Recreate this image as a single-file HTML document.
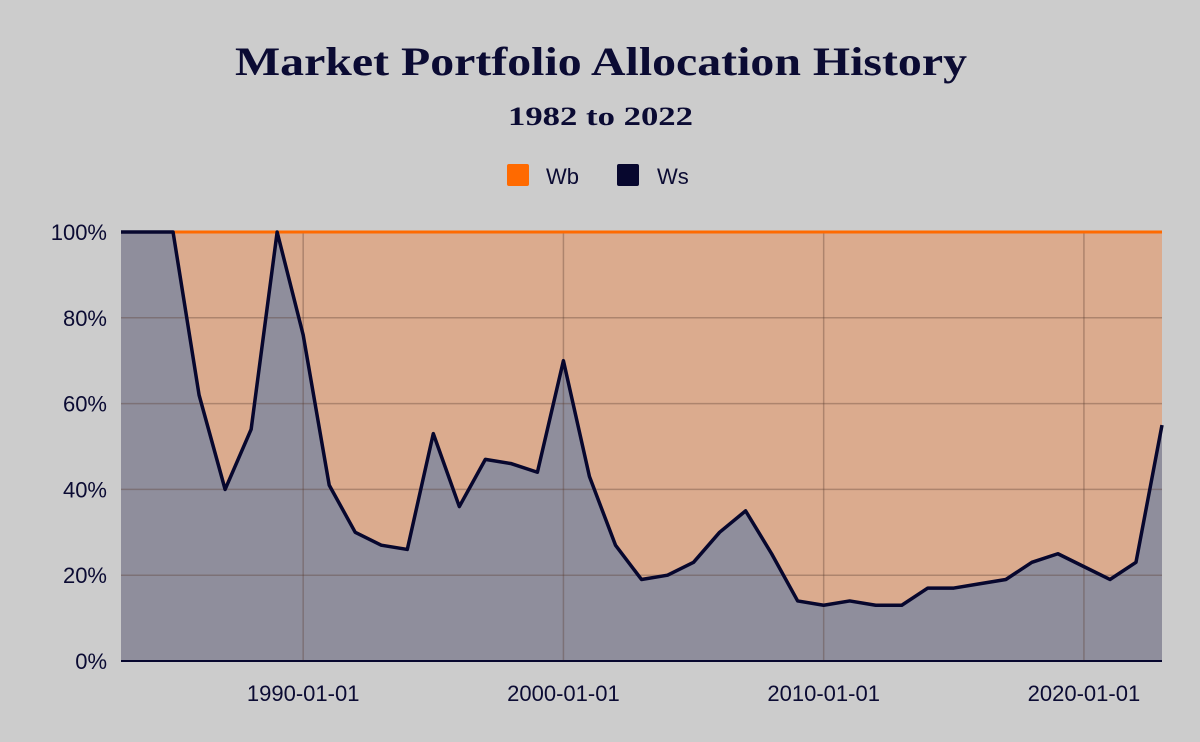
<!DOCTYPE html>
<html><head><meta charset="utf-8"><style>
html,body{margin:0;padding:0;background:#cccccc;}
svg{display:block;}
</style></head><body>
<svg width="1200" height="742" xmlns="http://www.w3.org/2000/svg">
<rect x="0" y="0" width="1200" height="742" fill="#cccccc"/>
<text x="235" y="75" textLength="732" lengthAdjust="spacingAndGlyphs" font-family="Liberation Serif, serif" font-weight="bold" font-size="40" fill="#0b0b33">Market Portfolio Allocation History</text>
<text x="508" y="125" textLength="185" lengthAdjust="spacingAndGlyphs" font-family="Liberation Serif, serif" font-weight="bold" font-size="26" fill="#0b0b33">1982 to 2022</text>
<g>
<g><rect x="507" y="164" width="22" height="22" rx="2" fill="#ff6a00"/><text x="546" y="184" font-family="Liberation Sans, sans-serif" font-size="22" fill="#0b0b33">Wb</text></g>
<g><rect x="617" y="164" width="22" height="22" rx="2" fill="#07072e"/><text x="657" y="184" font-family="Liberation Sans, sans-serif" font-size="22" fill="#0b0b33">Ws</text></g>
</g>
<g id="plot"></g>
</svg>
<script>
const years = [1983,1984,1985,1986,1987,1988,1989,1990,1991,1992,1993,1994,1995,1996,1997,1998,1999,2000,2001,2002,2003,2004,2005,2006,2007,2008,2009,2010,2011,2012,2013,2014,2015,2016,2017,2018,2019,2020,2021,2022,2023];
const wsValues = [100,100,100,62,40,54,100,76,41,30,27,26,53,36,47,46,44,70,43,27,19,20,23,30,35,25,14,13,14,13,13,17,17,18,19,23,25,22,19,23,55];
const yTicks = [0,20,40,60,80,100];
const xTickYears = [1990,2000,2010,2020];
const xTickLabels = ["1990-01-01","2000-01-01","2010-01-01","2020-01-01"];

const NS="http://www.w3.org/2000/svg";
const plotG=document.getElementById('plot');
const PL=121,PR=1162,PT=232,PB=661;
const xStart=years[0], xEnd=years[years.length-1];
const xs=v=>PL+(v-xStart)/(xEnd-xStart)*(PR-PL);
const ys=v=>PB-v/100*(PB-PT);
function mk(t,a){const e=document.createElementNS(NS,t);for(const k in a)e.setAttribute(k,a[k]);plotG.appendChild(e);return e;}
const linePts=years.map((y,i)=>xs(y)+","+ys(wsValues[i])).join(" L");
let wbPath="M"+linePts+" L"+xs(xEnd)+","+ys(100)+" L"+xs(xStart)+","+ys(100)+" Z";
let e=mk('path',{d:wbPath,fill:'#dbab8e'});


let wsPath="M"+linePts+" L"+xs(xEnd)+","+PB+" L"+xs(xStart)+","+PB+" Z";
e=mk('path',{d:wsPath,fill:'#8f8e9c'});


yTicks.forEach(t=>{
 if(t>0){const l=mk('line',{x1:PL,x2:PR,y1:ys(t),y2:ys(t),stroke:'rgba(90,60,50,0.35)','stroke-width':1.5});
 
 }
 const tx=mk('text',{x:PL-14,y:ys(t)+8,'text-anchor':'end','font-family':'Liberation Sans, sans-serif','font-size':22,fill:'#0b0b33'});
 tx.textContent=t+'%';
 
 
});
xTickYears.forEach((yr,i)=>{
 const l=mk('line',{x1:xs(yr),x2:xs(yr),y1:PT,y2:PB,stroke:'rgba(90,60,50,0.35)','stroke-width':1.5});
 
 
 const tx=mk('text',{x:xs(yr),y:PB+40,'text-anchor':'middle','font-family':'Liberation Sans, sans-serif','font-size':22,fill:'#0b0b33'});
 tx.textContent=xTickLabels[i];
 
 
});
e=mk('line',{x1:PL,x2:PR,y1:ys(100),y2:ys(100),stroke:'#ff6a00','stroke-width':3});


e=mk('path',{d:"M"+linePts,fill:'none',stroke:'#07072e','stroke-width':3.5,'stroke-linejoin':'round'});


e=mk('line',{x1:PL,x2:PR,y1:PB,y2:PB,stroke:'#07072e','stroke-width':2});


</script>
</body></html>
